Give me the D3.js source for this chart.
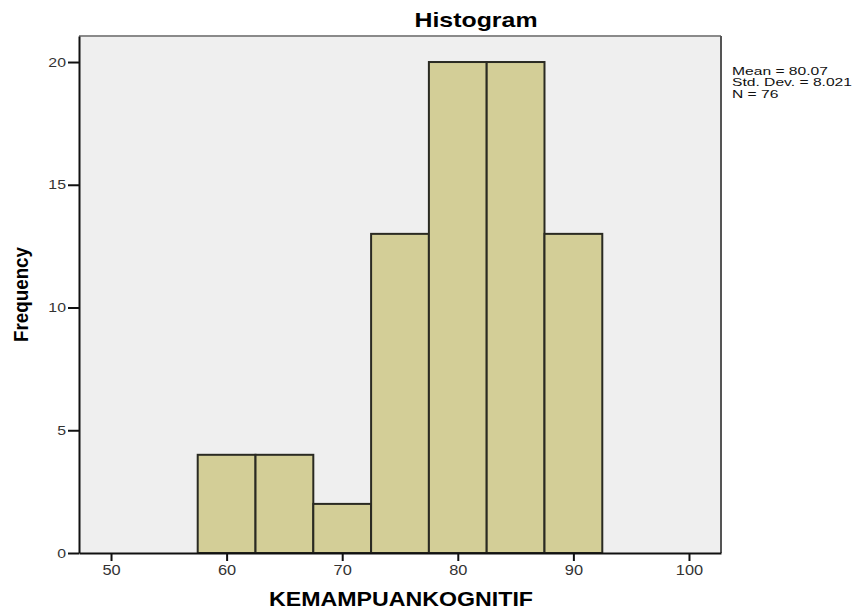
<!DOCTYPE html>
<html>
<head>
<meta charset="utf-8">
<script src="https://cdn.jsdelivr.net/npm/d3@7"></script>
<style>
  html, body { margin: 0; padding: 0; background: #fff; }
  svg { display: block; font-family: "Liberation Sans", Arial, sans-serif; }
</style>
</head>
<body>
<div id="chart"></div>
<script>
// Histogram of KEMAMPUANKOGNITIF (SPSS style)

const binLower = [57.5, 62.5, 67.5, 72.5, 77.5, 82.5, 87.5];
const binUpper = [62.5, 67.5, 72.5, 77.5, 82.5, 87.5, 92.5];
const frequencies = [4, 4, 2, 13, 20, 20, 13];
const xTicks = [50, 60, 70, 80, 90, 100];
const yTicks = [0, 5, 10, 15, 20];
const statLines = ["Mean = 80.07", "Std. Dev. = 8.021", "N = 76"];

const bins = binLower.map((lo, i) => ({ lo, hi: binUpper[i], n: frequencies[i] }));

const width = 861, height = 609;
const plot = { left: 79, right: 721, top: 36, bottom: 553 };

const svg = d3.select("#chart").append("svg")
  .attr("width", width)
  .attr("height", height);

// the source image is a bit wider than tall, so text is widened a little
function widen(sel, factor) {
  sel.each(function () {
    const w = this.getComputedTextLength();
    d3.select(this).attr("textLength", w * factor).attr("lengthAdjust", "spacingAndGlyphs");
  });
}

const x = d3.scaleLinear()
  .domain([47.23, 102.77])
  .range([plot.left, plot.right]);

const y = d3.scaleLinear()
  .domain([0, 21.06])
  .range([plot.bottom, plot.top]);

// plot background
svg.append("rect")
  .attr("x", plot.left)
  .attr("y", plot.top)
  .attr("width", plot.right - plot.left)
  .attr("height", plot.bottom - plot.top)
  .attr("fill", "#efefef");

// bars
svg.append("g").selectAll("rect")
  .data(bins)
  .join("rect")
  .attr("x", d => x(d.lo))
  .attr("y", d => y(d.n))
  .attr("width", d => x(d.hi) - x(d.lo))
  .attr("height", d => y(0) - y(d.n))
  .attr("fill", "#d3ce97")
  .attr("stroke", "#2a2a22")
  .attr("stroke-width", 2);

// frame: grey top / right
svg.append("line")
  .attr("x1", plot.left).attr("x2", plot.right)
  .attr("y1", plot.top).attr("y2", plot.top)
  .attr("stroke", "#8a8a8a").attr("stroke-width", 2);
svg.append("line")
  .attr("x1", plot.right).attr("x2", plot.right)
  .attr("y1", plot.top).attr("y2", plot.bottom)
  .attr("stroke", "#555").attr("stroke-width", 2);

// axes
const xAxis = svg.append("g")
  .attr("transform", `translate(0,${plot.bottom})`)
  .call(d3.axisBottom(x).tickValues(xTicks).tickSize(8).tickSizeOuter(0));
xAxis.select(".domain").attr("stroke", "#111").attr("stroke-width", 2);
xAxis.selectAll(".tick line").attr("stroke", "#111").attr("stroke-width", 2);
xAxis.selectAll(".tick text")
  .attr("y", 12)
  .attr("fill", "#333")
  .style("font-size", "14px")
  .style("font-family", "Liberation Sans, Arial, sans-serif")
  .call(widen, 1.17);

const yAxis = svg.append("g")
  .attr("transform", `translate(${plot.left},0)`)
  .call(d3.axisLeft(y).tickValues(yTicks).tickSize(11).tickSizeOuter(0));
yAxis.select(".domain").attr("stroke", "#111").attr("stroke-width", 2);
yAxis.selectAll(".tick line").attr("stroke", "#111").attr("stroke-width", 2);
yAxis.selectAll(".tick text")
  .attr("x", -13)
  .attr("fill", "#333")
  .style("font-size", "13px")
  .style("font-family", "Liberation Sans, Arial, sans-serif")
  .call(widen, 1.22);

// title
svg.append("text")
  .attr("x", 476)
  .attr("y", 27)
  .attr("text-anchor", "middle")
  .style("font-size", "21px")
  .style("font-weight", "bold")
  .text("Histogram")
  .attr("textLength", 123)
  .attr("lengthAdjust", "spacingAndGlyphs");

// axis titles
svg.append("text")
  .attr("x", 401)
  .attr("y", 606)
  .attr("text-anchor", "middle")
  .style("font-size", "21px")
  .style("font-weight", "bold")
  .text("KEMAMPUANKOGNITIF")
  .attr("textLength", 264)
  .attr("lengthAdjust", "spacingAndGlyphs");

svg.append("text")
  .attr("transform", `translate(28,${(plot.top + plot.bottom) / 2}) scale(1.17,1) rotate(-90)`)
  .attr("text-anchor", "middle")
  .style("font-size", "18px")
  .style("font-weight", "bold")
  .text("Frequency")
  .attr("textLength", 95)
  .attr("lengthAdjust", "spacingAndGlyphs");

// stats box
svg.append("g").selectAll("text")
  .data(statLines)
  .join("text")
  .attr("x", 732)
  .attr("y", (d, i) => 75 + i * 11.4)
  .style("font-size", "11px")
  .attr("fill", "#111")
  .text(d => d)
  .call(widen, 1.42);
</script>
</body>
</html>
